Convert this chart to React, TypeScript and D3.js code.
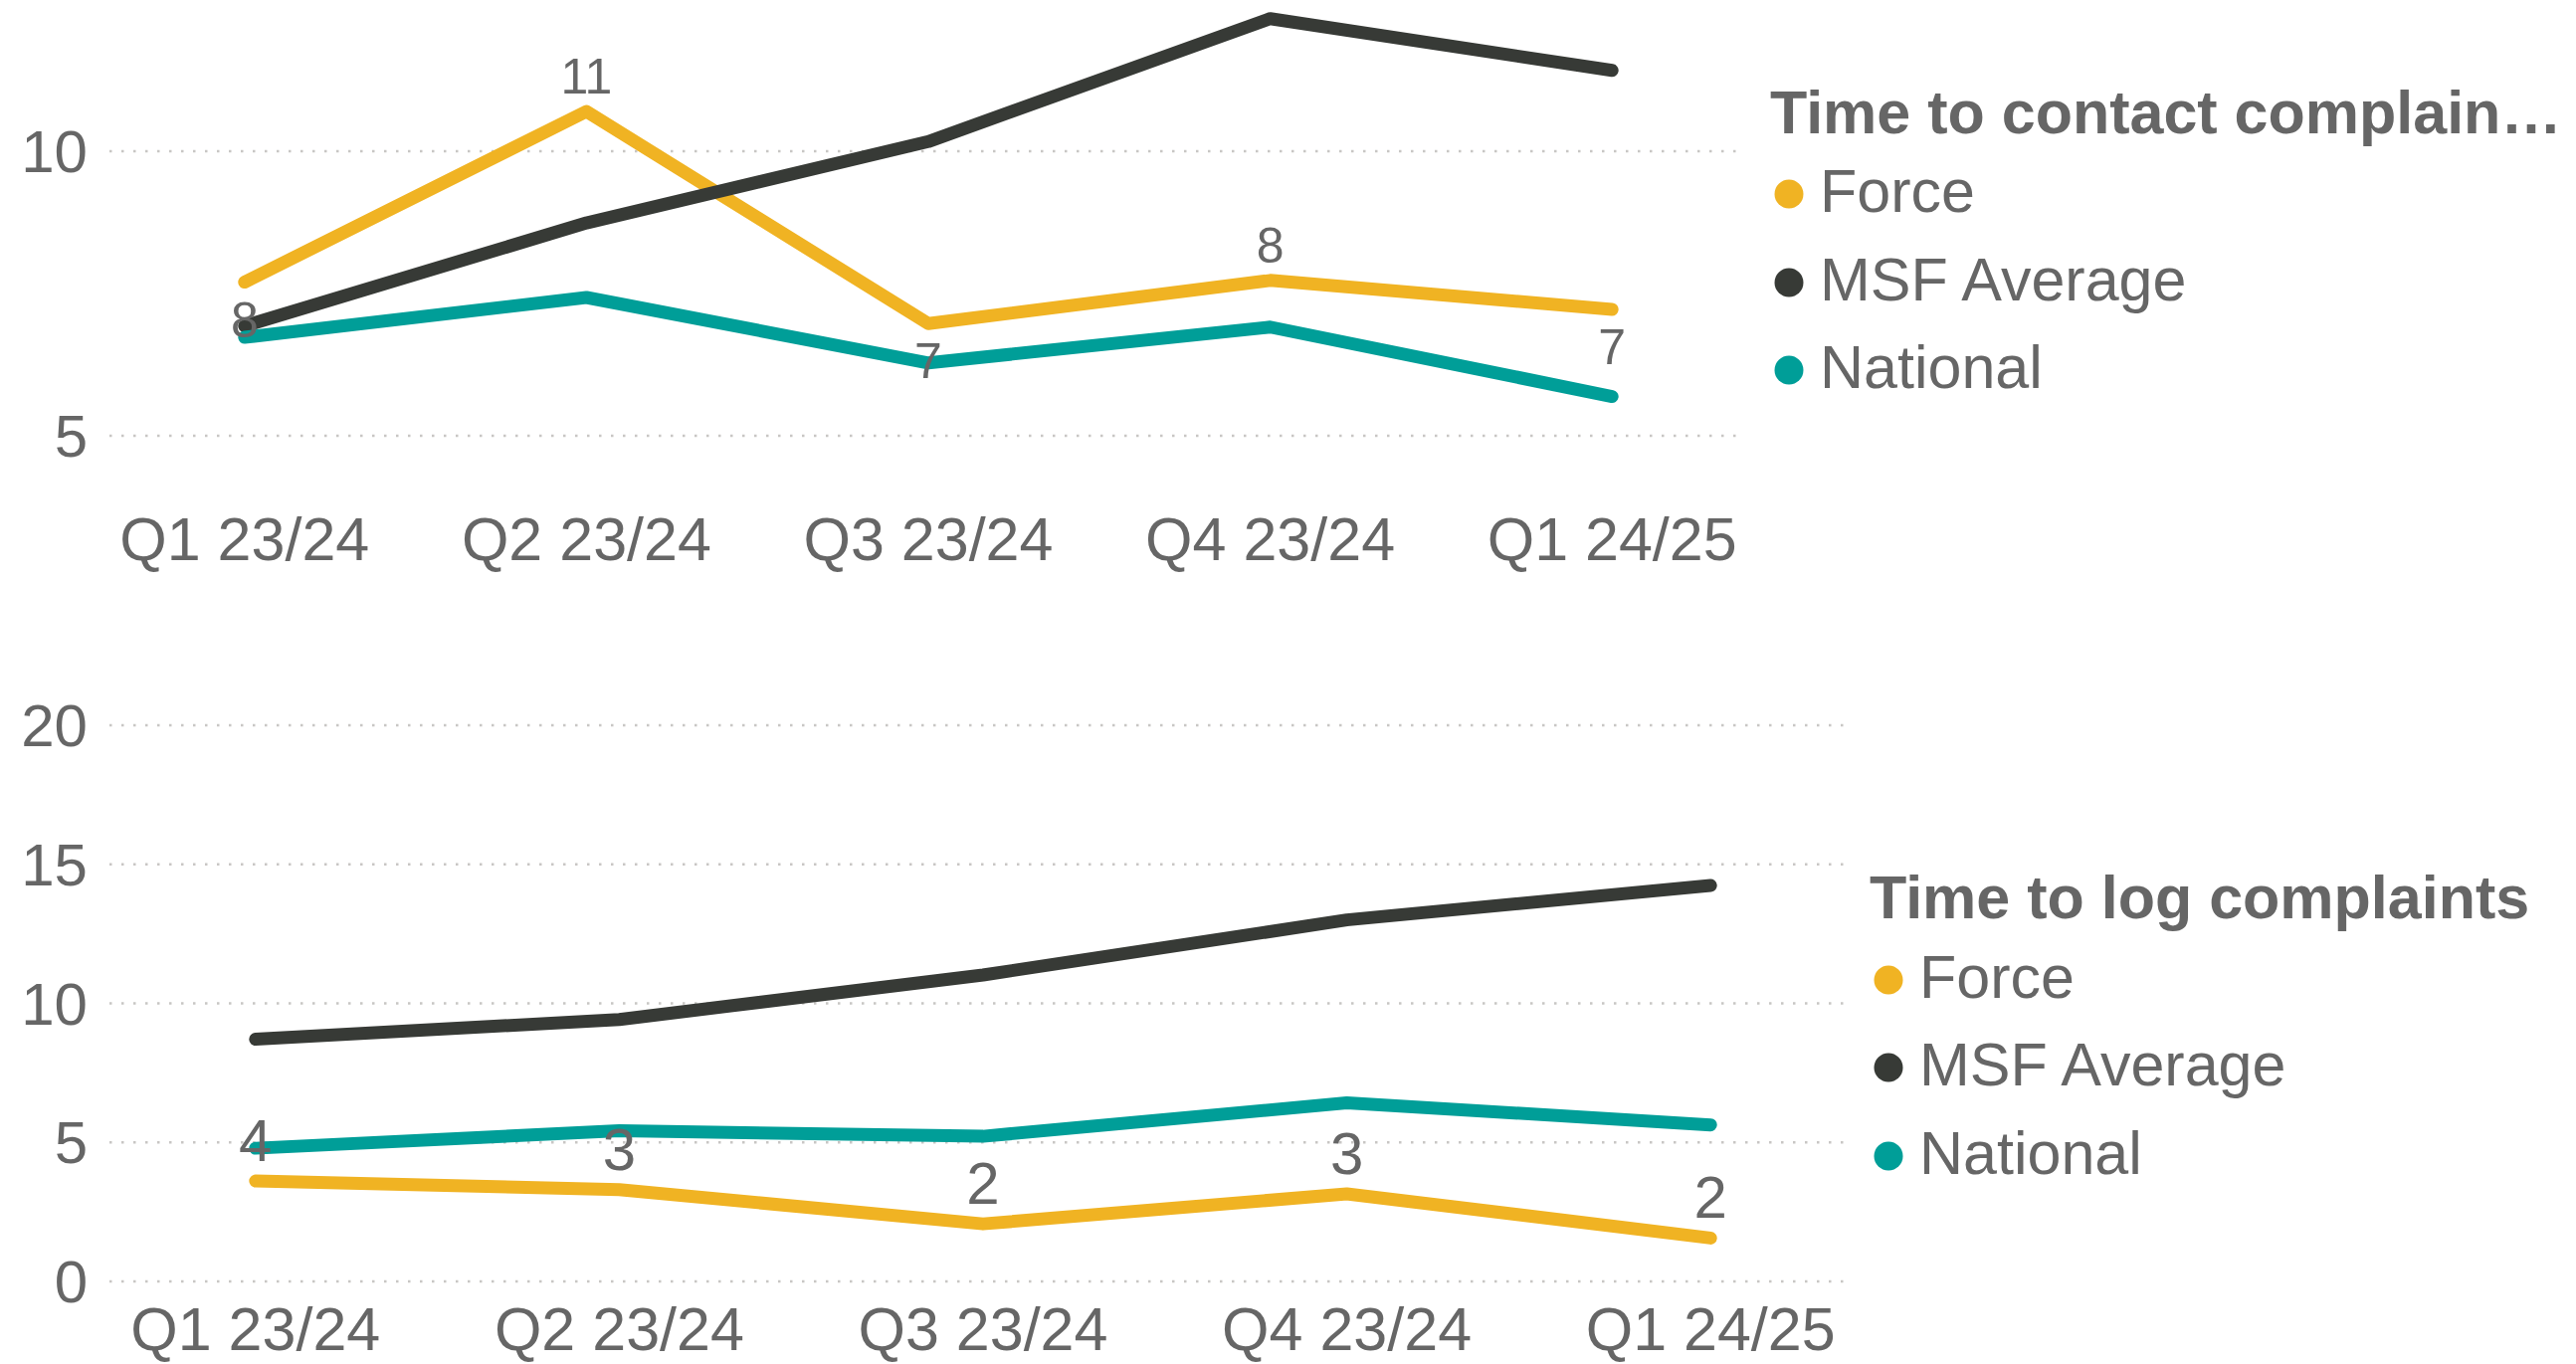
import { useEffect, useRef } from "react";
import * as d3 from "d3";

const quarters = ["Q1 23/24", "Q2 23/24", "Q3 23/24", "Q4 23/24", "Q1 24/25"];
const seriesNames = ["Force", "MSF Average", "National"];
const seriesColors = ["#F0B323", "#373A36", "#009E98"];

// time to contact complainants
const contactForce = [7.7, 10.7, 6.97, 7.73, 7.22];
const contactMsf = [6.93, 8.74, 10.17, 12.33, 11.42];
const contactNational = [6.73, 7.43, 6.28, 6.91, 5.69];
const contactTicks = [5, 10];
const contactLabelSide = ["below", "above", "below", "above", "below"];

// time to log complaints
const logForce = [3.61, 3.3, 2.07, 3.15, 1.56];
const logMsf = [8.71, 9.42, 11.02, 13.0, 14.24];
const logNational = [4.79, 5.42, 5.22, 6.42, 5.63];
const logTicks = [0, 5, 10, 15, 20];
const logLabelSide = ["above", "above", "above", "above", "above"];

const FONT = "'Liberation Sans', Arial, sans-serif";
const TEXT = "#666666";

type Panel = {
  title: string;
  series: number[][];
  ticks: number[];
  labelSide: string[];
  yDomain: [number, number];
  yRange: [number, number];
  xRange: [number, number];
  gridEnd: number;
  xLabelY: number;
  labelSize: number;
  aboveOffset: number;
  legendX: number;
  legendTitleY: number;
  legendItemY: number[];
};

function drawPanel(svg: d3.Selection<SVGSVGElement, unknown, null, undefined>, p: Panel) {
  const x = d3.scalePoint<string>().domain(quarters).range(p.xRange).padding(0.5);
  const y = d3.scaleLinear().domain(p.yDomain).range(p.yRange);
  const g = svg.append("g");

  // gridlines + y ticks
  g.selectAll("line.grid")
    .data(p.ticks)
    .enter()
    .append("line")
    .attr("x1", 110)
    .attr("x2", p.gridEnd)
    .attr("y1", d => y(d))
    .attr("y2", d => y(d))
    .attr("stroke", "#C8C6C4")
    .attr("stroke-width", 2.5)
    .attr("stroke-dasharray", "2.5 9.5");

  g.selectAll("text.ytick")
    .data(p.ticks)
    .enter()
    .append("text")
    .attr("x", 88)
    .attr("y", d => y(d) + 21)
    .attr("text-anchor", "end")
    .attr("font-size", 60)
    .attr("fill", TEXT)
    .text(d => String(d));

  // x labels
  g.selectAll("text.xtick")
    .data(quarters)
    .enter()
    .append("text")
    .attr("x", d => x(d)!)
    .attr("y", p.xLabelY)
    .attr("text-anchor", "middle")
    .attr("font-size", 61)
    .attr("fill", TEXT)
    .text(d => d);

  const line = d3.line<number>()
    .x((_, i) => x(quarters[i])!)
    .y(d => y(d));

  p.series.forEach((vals, si) => {
    g.append("path")
      .datum(vals)
      .attr("d", line)
      .attr("fill", "none")
      .attr("stroke", seriesColors[si])
      .attr("stroke-width", 13)
      .attr("stroke-linecap", "round")
      .attr("stroke-linejoin", "round");
  });

  // data labels on Force
  g.selectAll("text.value")
    .data(p.series[0])
    .enter()
    .append("text")
    .attr("x", (_, i) => x(quarters[i])!)
    .attr("y", (d, i) => p.labelSide[i] === "above" ? y(d) - p.aboveOffset : y(d) + 55)
    .attr("text-anchor", "middle")
    .attr("font-size", p.labelSize)
    .attr("fill", TEXT)
    .text(d => String(Math.round(d)));

  // legend
  g.append("text")
    .attr("x", p.legendX)
    .attr("y", p.legendTitleY)
    .attr("font-size", 61)
    .attr("font-weight", 700)
    .attr("fill", TEXT)
    .text(p.title);

  seriesNames.forEach((name, i) => {
    g.append("circle")
      .attr("cx", p.legendX + 19)
      .attr("cy", p.legendItemY[i] - 18)
      .attr("r", 14.5)
      .attr("fill", seriesColors[i]);
    g.append("text")
      .attr("x", p.legendX + 50)
      .attr("y", p.legendItemY[i])
      .attr("font-size", 61)
      .attr("fill", TEXT)
      .text(name);
  });
}

export default function App() {
  const svgRef = useRef<SVGSVGElement | null>(null);

  useEffect(() => {
    if (!svgRef.current) return;
    const svg = d3.select(svgRef.current);
    svg.selectAll("*").remove();
    svg.attr("font-family", FONT);

    drawPanel(svg, {
      title: "Time to contact complain\u2026",
      series: [contactForce, contactMsf, contactNational],
      ticks: contactTicks,
      labelSide: contactLabelSide,
      yDomain: [5, 10],
      yRange: [438, 152],
      xRange: [74, 1792],
      gridEnd: 1750,
      xLabelY: 563,
      labelSize: 50,
      aboveOffset: 18,
      legendX: 1779,
      legendTitleY: 134,
      legendItemY: [213, 302, 390],
    });

    drawPanel(svg, {
      title: "Time to log complaints",
      series: [logForce, logMsf, logNational],
      ticks: logTicks,
      labelSide: logLabelSide,
      yDomain: [0, 20],
      yRange: [1288, 729],
      xRange: [74, 1902],
      gridEnd: 1857,
      xLabelY: 1357,
      labelSize: 60,
      aboveOffset: 20,
      legendX: 1879,
      legendTitleY: 923,
      legendItemY: [1003, 1091, 1180],
    });
  }, []);

  return (
    <svg
      ref={svgRef}
      width={2589}
      height={1371}
      style={{ position: "absolute", left: 0, top: 0, background: "#ffffff" }}
    />
  );
}
